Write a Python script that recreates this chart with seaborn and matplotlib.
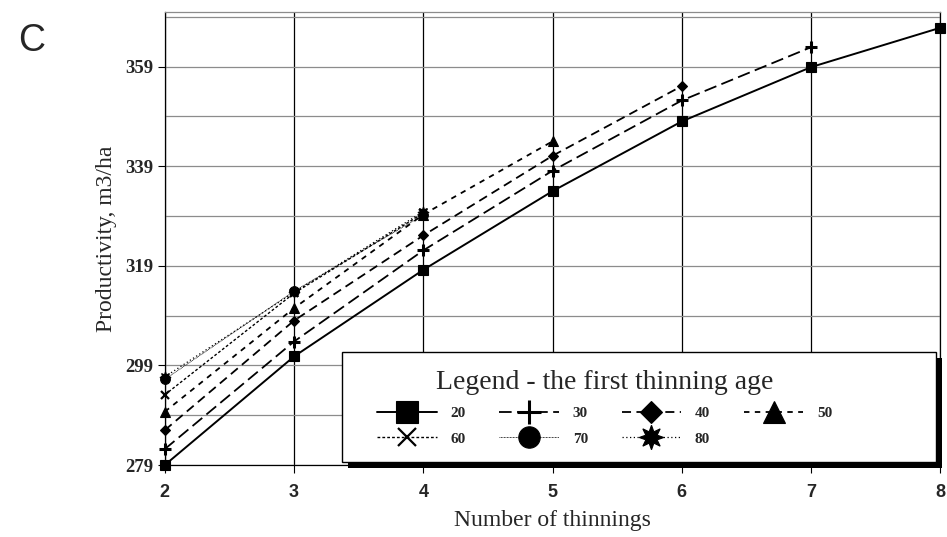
import matplotlib
matplotlib.use("Agg")
import matplotlib.pyplot as plt
import matplotlib.patheffects as pe
from matplotlib.patches import Rectangle
import seaborn as sns

# number of thinnings on the x axis
thinnings = [2, 3, 4, 5, 6, 7, 8]

# productivity (m3/ha) for each first thinning age
age20 = [279.0, 300.8, 318.2, 334.0, 348.0, 358.9, 366.8]
age30 = [282.2, 303.8, 322.1, 338.1, 352.2, 362.9]
age40 = [286.0, 308.0, 325.1, 341.1, 355.1]
age50 = [289.7, 310.5, 329.3, 344.0]
age60 = [293.1, 313.5, 329.6]
age70 = [296.2, 313.9, 329.2]
age80 = [296.7, 313.7, 329.9]

ages = ["20", "30", "40", "50", "60", "70", "80"]
series = [age20, age30, age40, age50, age60, age70, age80]

yticks = [279, 299, 319, 339, 359]
yminor = [289, 309, 329, 349, 369]

styles = {
    "20": dict(marker="s", linestyle="-", linewidth=1.4, markersize=7),
    "30": dict(marker="+", linestyle=(0, (7, 3)), linewidth=1.3, markersize=8, mew=2.2),
    "40": dict(marker="D", linestyle=(0, (5, 3)), linewidth=1.3, markersize=5),
    "50": dict(marker="^", linestyle=(0, (3, 3)), linewidth=1.3, markersize=7),
    "60": dict(marker="x", linestyle=(0, (2, 1.5)), linewidth=1.0, markersize=6, mew=1.6),
    "70": dict(marker="o", linestyle=(0, (1, 0.8)), linewidth=0.6, markersize=7),
    "80": dict(marker=(8, 1, 0), linestyle=(0, (1, 2)), linewidth=0.9, markersize=8),
}

sns.set_theme(style="white")
plt.rcParams["font.family"] = ["Liberation Serif", "DejaVu Serif"]

fig = plt.figure(figsize=(9.47, 5.37), dpi=100)
ax = fig.add_axes([0.174, 0.134, 0.819, 0.844])

for age, vals in zip(ages, series):
    st = dict(styles[age])
    mew = st.pop("mew", 0.8)
    sns.lineplot(x=thinnings[:len(vals)], y=vals, ax=ax, color="black",
                 mec="black", mfc="black", mew=mew, label=age, legend=False,
                 clip_on=False, zorder=3, **st)

ax.set_xlim(2, 8)
ax.set_ylim(279, 370)
ax.set_xticks(thinnings)
ax.set_yticks(yticks)
ax.set_yticks(yminor, minor=True)
ax.grid(axis="x", which="major", color="black", linewidth=0.9)
ax.grid(axis="y", which="both", color="0.55", linewidth=0.9)
ax.tick_params(axis="y", which="major", left=True, length=5, width=0.8, color="black", pad=3)
ax.tick_params(axis="y", which="minor", left=False)
ax.tick_params(axis="x", bottom=True, length=6, width=0.8, color="black", pad=8)
for lab in ax.get_yticklabels():
    lab.set_fontweight("bold")
    lab.set_fontsize(13.5)
for lab in ax.get_xticklabels():
    lab.set_fontweight("bold")
    lab.set_fontsize(13)
    lab.set_family("Liberation Sans")

for side in ["left", "bottom", "right"]:
    ax.spines[side].set_color("black")
    ax.spines[side].set_linewidth(0.9)
ax.spines["top"].set_color("0.55")
ax.spines["top"].set_linewidth(0.9)

ax.set_xlabel("Number of thinnings", fontsize=17, labelpad=6)
ax.set_ylabel("Productivity, m3/ha", fontsize=17, labelpad=6)

# legend box with a solid drop shadow
box = Rectangle((0.228, 0.007), 0.766, 0.242, transform=ax.transAxes,
                facecolor="white", edgecolor="black", linewidth=1.0,
                zorder=5, clip_on=False)
box.set_path_effects([pe.SimplePatchShadow(offset=(4.5, -4.5), shadow_rgbFace="black", alpha=1),
                      pe.Normal()])
ax.add_patch(box)

handles, labels = ax.get_legend_handles_labels()
order = [0, 4, 1, 5, 2, 6, 3]
leg = ax.legend([handles[i] for i in order], [labels[i] for i in order],
                ncol=4, title="Legend - the first thinning age", loc="center left",
                bbox_to_anchor=(0.264, 0.126), frameon=False,
                markerscale=2.2, handlelength=3.9, handletextpad=0.9,
                columnspacing=2.2, borderpad=0, labelspacing=0.75,
                prop={"family": "Liberation Serif", "weight": "bold", "size": 11},
                title_fontproperties={"family": "Liberation Serif", "size": 20})
leg.set_zorder(6)

fig.text(0.019, 0.905, "C", fontsize=27, family="Liberation Sans")

plt.savefig("out.png", dpi=100)
plt.close("all")
